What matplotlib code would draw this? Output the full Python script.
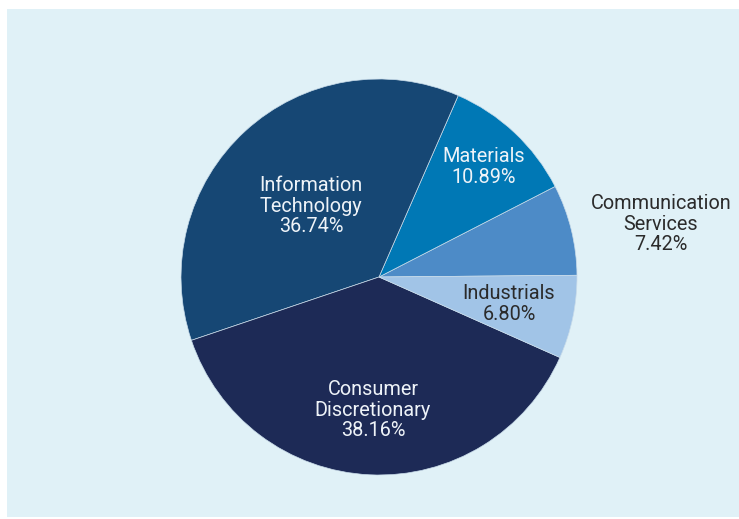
import matplotlib
matplotlib.use("Agg")
import matplotlib.pyplot as plt
from matplotlib.patches import Rectangle

categories = ["Communication\nServices", "Materials", "Information\nTechnology",
              "Consumer\nDiscretionary", "Industrials"]
values = [7.42, 10.89, 36.74, 38.16, 6.80]
colors = ["#4d8bc7", "#0078b5", "#164774", "#1d2a56", "#a1c4e7"]
text_colors = ["#2b2b2b", "#eef3f8", "#eef3f8", "#eef3f8", "#2b2b2b"]
# label centres in pixels (x, y from top)
label_px = [(661, 224), (484, 167), (311, 206), (373, 410), (509, 304)]

W, H = 739, 519
fig = plt.figure(figsize=(W / 100, H / 100), dpi=100, facecolor="white")
bg = Rectangle((7 / W, 2 / H), 1 - 7 / W, (H - 11) / H,
               transform=fig.transFigure, facecolor="#e0f1f7",
               edgecolor="none", zorder=-10)
fig.add_artist(bg)

cx, cy, r = 379, 277, 198
ax = fig.add_axes([(cx - r) / W, (H - cy - r) / H, 2 * r / W, 2 * r / H])
ax.set_zorder(5)
ax.patch.set_visible(False)
ax.axis("off")

ax.pie(values, colors=colors, startangle=0.5, counterclock=True, radius=1,
       wedgeprops=dict(edgecolor="#c9dcea", linewidth=0.5))
ax.set_xlim(-1, 1)
ax.set_ylim(-1, 1)
ax.set_aspect("equal")

for cat, v, (px, py), tc in zip(categories, values, label_px, text_colors):
    ax.text((px - cx) / r, (cy - py) / r, f"{cat}\n{v:.2f}%", ha="center", va="center",
            color=tc, fontsize=14.3, family="Roboto", fontweight="normal",
            linespacing=1.08, clip_on=False)

fig.savefig("out.png", dpi=100, facecolor="white")
